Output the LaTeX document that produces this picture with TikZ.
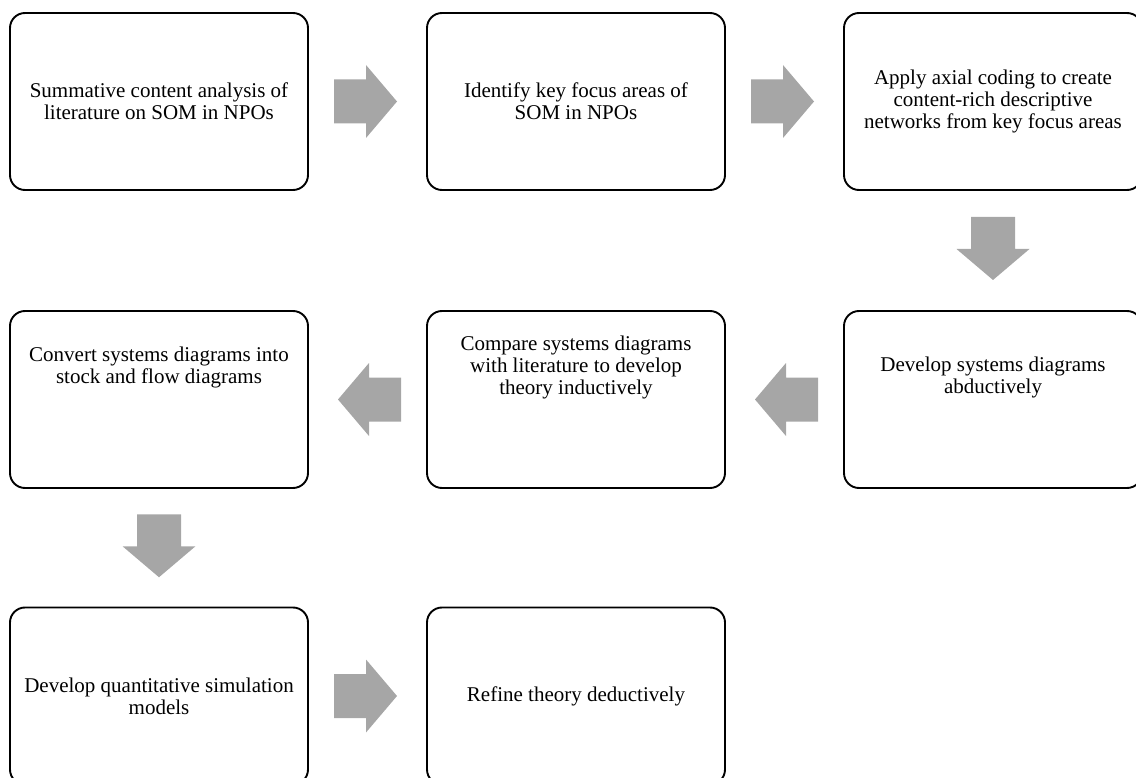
\documentclass[tikz,border=0pt]{standalone}
\usepackage{fontspec}
\setmainfont{Liberation Serif}
\usetikzlibrary{calc}
\definecolor{flowgray}{HTML}{A6A6A6}
\tikzset{
  stagebox/.style={draw=black, line width=1.9pt, rounded corners=15pt,
    minimum width=298pt, minimum height=177pt, inner sep=0pt, fill=white},
  stagetext/.style={align=center, inner sep=0pt,
    font=\fontsize{21}{22}\selectfont},
  pics/blockarrow/.style={code={
    \fill[flowgray] (-31.5,-22) -- (0.5,-22) -- (0.5,-36.5) -- (31.5,0)
      -- (0.5,36.5) -- (0.5,22) -- (-31.5,22) -- cycle;}}
}
\begin{document}
\begin{tikzpicture}[x=1pt,y=-1pt]
\useasboundingbox (0,0) rectangle (1136,778);
\clip (0,0) rectangle (1136,778);

% stage boxes, three rows
\node[stagebox] (b1) at (159,101.5) {};
\node[stagebox] (b2) at (576,101.5) {};
\node[stagebox] (b3) at (993,101.5) {};
\node[stagebox] (b4) at (159,399.5) {};
\node[stagebox] (b5) at (576,399.5) {};
\node[stagebox] (b6) at (993,399.5) {};
\node[stagebox] (b7) at (159,696) {};
\node[stagebox] (b8) at (576,696) {};

% stage labels
\node[stagetext] (t1) at (b1.center) {Summative content analysis of\\literature on SOM in NPOs};
\node[stagetext] (t2) at (b2.center) {Identify key focus areas of\\SOM in NPOs};
\node[stagetext] (t3) at (b3.center) {Apply axial coding to create\\content-rich descriptive\\networks from key focus areas};
\node[stagetext] (t4) at ($(b4.center)+(0,-32)$) {Convert systems diagrams into\\stock and flow diagrams};
\node[stagetext] (t5) at ($(b5.center)+(0,-32)$) {Compare systems diagrams\\with literature to develop\\theory inductively};
\node[stagetext] (t6) at ($(b6.center)+(0,-22.5)$) {Develop systems diagrams\\abductively};
\node[stagetext] (t7) at (b7.center) {Develop quantitative simulation\\models};
\node[stagetext] (t8) at (b8.center) {Refine theory deductively};

% block arrows between consecutive stages
\pic at ($(b1.east)!0.5!(b2.west)+(-2,0)$) {blockarrow};
\pic at ($(b2.east)!0.5!(b3.west)+(-2,0)$) {blockarrow};
\pic[rotate=-90] at ($(b3.south)!0.5!(b6.north)+(0,-2)$) {blockarrow};
\pic[rotate=180] at ($(b6.west)!0.5!(b5.east)+(2,0)$) {blockarrow};
\pic[rotate=180] at ($(b5.west)!0.5!(b4.east)+(2,0)$) {blockarrow};
\pic[rotate=-90] at ($(b4.south)!0.5!(b7.north)+(0,-2)$) {blockarrow};
\pic at ($(b7.east)!0.5!(b8.west)+(-2,0)$) {blockarrow};
\end{tikzpicture}
\end{document}
